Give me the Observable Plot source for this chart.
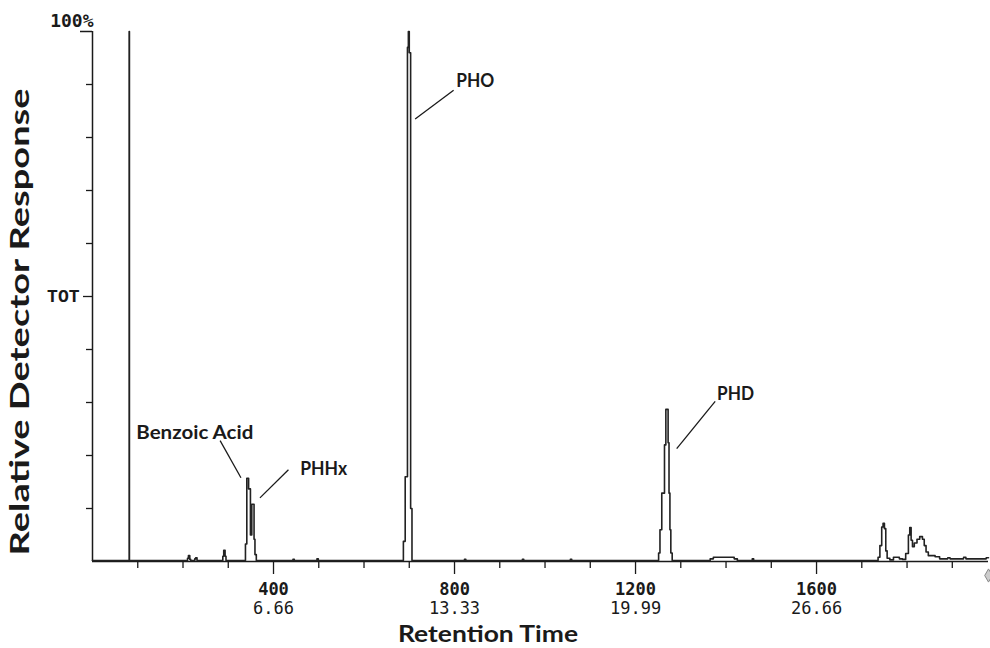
<!DOCTYPE html>
<html><head><meta charset="utf-8">
<script src="https://cdn.jsdelivr.net/npm/d3@7"></script>
<script src="https://cdn.jsdelivr.net/npm/@observablehq/plot@0.6"></script>
<style>body{margin:0;background:#fff} #chart svg{display:block}</style>
</head><body><div id="chart"></div>
<script>
// Chromatogram trace: scan number vs relative detector response (%)
const scans = [0, 81, 81.6, 210, 212, 215, 217, 226, 228, 231, 288, 290, 293, 295,
  338, 341, 345, 349, 352, 357, 359, 362, 443, 446, 496, 499,
  687, 691, 696, 698, 700, 703, 706, 822, 825, 950, 953, 1056, 1059,
  1251, 1254, 1258, 1264, 1267, 1272, 1274, 1276, 1278, 1281,
  1365, 1372, 1418, 1425, 1458, 1461,
  1736, 1740, 1744, 1747, 1750, 1753, 1756, 1762, 1770, 1783, 1790, 1797, 1803, 1806, 1809, 1812,
  1816, 1822, 1828, 1834, 1838, 1842, 1847, 1862, 1872, 1890, 1895, 1925, 1930, 1968, 1975, 1980];
const response = [0.2, 100, 0.2, 0.6, 1.1, 0.4, 0.2, 0.5, 0.7, 0.2, 1.0, 2.1, 1.0, 0.2,
  3.3, 15.7, 13.7, 5.0, 10.8, 4.2, 1.3, 0.2, 0.4, 0.2, 0.5, 0.2,
  3.8, 16, 97, 100, 96, 10, 0.2, 0.4, 0.2, 0.4, 0.2, 0.4, 0.2,
  1.6, 6, 12.9, 22, 28.7, 22.4, 12.9, 6, 1.6, 0.2,
  0.5, 0.8, 0.5, 0.2, 0.5, 0.2,
  0.8, 3, 6.5, 7.2, 6.2, 2, 0.6, 0.3, 0.8, 0.5, 0.4, 1.5, 5, 6.4, 4.0, 2.8,
  3.5, 4.2, 4.7, 4.2, 3.0, 1.8, 1.1, 0.9, 0.5, 0.7, 0.5, 0.8, 0.5, 0.5, 0.7, 0.7];

const majorTicks = [400, 800, 1200, 1600];
const majorTimes = ["6.66", "13.33", "19.99", "26.66"];
const minorTicks = [100, 200, 300, 500, 600, 700, 900, 1000, 1100, 1300, 1400, 1500, 1700, 1800, 1900];
const yMinorTicks = [10, 20, 30, 40, 60, 70, 80, 90];
const yTotTick = [50];
const yTopTick = [100];

const peakNames = ["Benzoic Acid", "PHHx", "PHO", "PHD"];
const labelScan = [226, 511, 846, 1421];
const labelResp = [24.3, 17.4, 90.6, 31.7];
const leaderFromScan = [282, 433, 798, 1376];
const leaderFromResp = [22.8, 17.3, 88.9, 30.2];
const leaderToScan = [328, 370, 713, 1291];
const leaderToResp = [15.8, 12.0, 83.5, 21.3];

const yTitle = "Relative Detector Response";
const xTitle = "Retention Time";

const trace = scans.map((s, i) => ({scan: s, resp: response[i]}));
const peaks = peakNames.map((name, i) => ({
  name, lx: labelScan[i], ly: labelResp[i],
  x1: leaderFromScan[i], y1: leaderFromResp[i], x2: leaderToScan[i], y2: leaderToResp[i]
}));
const major = majorTicks.map((t, i) => ({t, label: String(t), time: majorTimes[i]}));

const mono = "DejaVu Sans Mono";
const sans = "Lato, 'Open Sans', sans-serif";
const ink = "#1a1a1a";

const chart = Plot.plot({
  width: 990, height: 648,
  marginLeft: 92, marginRight: 2, marginTop: 31, marginBottom: 87,
  x: {domain: [0, 1980], axis: null},
  y: {domain: [0, 100], axis: null},
  style: {background: "#fff", color: ink},
  marks: [
    Plot.axisY(yMinorTicks, {tickSize: 6, tickFormat: () => "", stroke: ink, strokeWidth: 1.3}),
    Plot.axisY(yTotTick, {tickSize: 9, tickPadding: 4, tickFormat: () => "TOT", stroke: ink, strokeWidth: 1.3,
      fontSize: 18, fontFamily: "'Liberation Mono', monospace", fontWeight: "bold", fill: ink}),
    Plot.axisY(yTopTick, {tickSize: 12, tickFormat: () => "", stroke: ink, strokeWidth: 1.5}),
    Plot.text(["100%"], {x: 0, y: 100, textAnchor: "end", dy: -10, dx: 1, fontSize: 18, fontFamily: mono,
      fontWeight: "bold", fill: ink, letterSpacing: 0.8}),
    Plot.axisX(minorTicks, {tickSize: 7, tickFormat: () => "", stroke: ink, strokeWidth: 1.3}),
    Plot.axisX(majorTicks, {tickSize: 13, tickFormat: () => "", stroke: ink, strokeWidth: 1.3}),
    Plot.text(major, {x: "t", y: 0, text: "label", dy: 28.5, fontSize: 17, fontFamily: mono, fontWeight: "bold",
      fill: ink, letterSpacing: 1.2}),
    Plot.text(major, {x: "t", y: 0, text: "time", dy: 47.5, fontSize: 17, fontFamily: mono,
      fill: ink, letterSpacing: 1.2}),
    Plot.dot([1980], {x: d => d, y: 0, dy: 14, symbol: "diamond", r: 4, stroke: "#888", fill: "#ccc", strokeWidth: 1}),
    Plot.ruleY([0], {stroke: ink, strokeWidth: 1.5}),
    Plot.ruleX([0], {y1: 0, y2: 100, stroke: ink, strokeWidth: 1.5}),
    Plot.line(trace, {x: "scan", y: "resp", curve: "step-after", stroke: "#222", strokeWidth: 1.6}),
    Plot.link(peaks, {x1: "x1", y1: "y1", x2: "x2", y2: "y2", stroke: ink, strokeWidth: 1.3}),
    Plot.text(peaks, {x: "lx", y: "ly", text: "name", fontSize: 19, fontWeight: "bold", fontFamily: sans, fill: ink}),
    Plot.text([yTitle], {x: () => -159, y: () => 45.2, rotate: -90, lineAnchor: "middle",
      fontSize: 26, fontWeight: "bold", fontFamily: sans, fill: ink}),
    Plot.text([xTitle], {x: () => 874, y: () => -13.9, lineAnchor: "middle",
      fontSize: 22, fontWeight: "bold", fontFamily: sans, fill: ink})
  ]
});

// match the stretched lettering of the reference labels
const textLengths = {"Benzoic Acid": 117, "PHHx": 47, "PHO": 38, "PHD": 37,
  [yTitle]: 467, [xTitle]: 180};
d3.select(chart).selectAll("text").each(function() {
  const len = textLengths[this.textContent];
  if (len) {
    this.setAttribute("textLength", len);
    this.setAttribute("lengthAdjust", "spacingAndGlyphs");
  }
});
document.getElementById("chart").appendChild(chart);
</script>
</body></html>
